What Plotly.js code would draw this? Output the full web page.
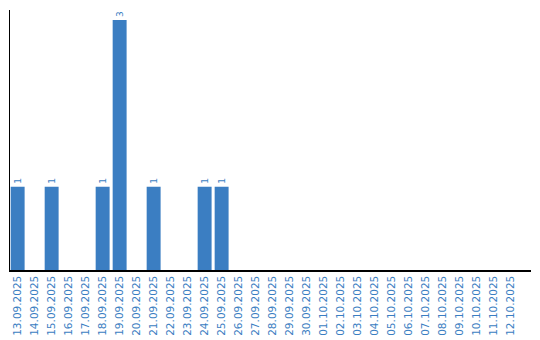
<!DOCTYPE html>
<html><head><meta charset="utf-8">
<script src="https://cdn.plot.ly/plotly-3.0.1.min.js"></script>
<style>html,body{margin:0;padding:0;background:#fff}#c{width:540px;height:340px}</style>
</head><body><div id="c"></div>
<script>
const dates = ["13.09.2025","14.09.2025","15.09.2025","16.09.2025","17.09.2025","18.09.2025","19.09.2025","20.09.2025","21.09.2025","22.09.2025","23.09.2025","24.09.2025","25.09.2025","26.09.2025","27.09.2025","28.09.2025","29.09.2025","30.09.2025","01.10.2025","02.10.2025","03.10.2025","04.10.2025","05.10.2025","06.10.2025","07.10.2025","08.10.2025","09.10.2025","10.10.2025","11.10.2025","12.10.2025"];
const counts = [1,0,1,0,0,1,3,0,1,0,0,1,1,0,0,0,0,0,0,0,0,0,0,0,0,0,0,0,0,0];
const labels = counts.map(v => v > 0 ? String(v) : "");
const blue = "#3b7ec2";
Plotly.newPlot("c", [{
  type: "bar", x: dates, y: counts, text: labels,
  textposition: "outside", textangle: -90, cliponaxis: false,
  textfont: {family: "DejaVu Sans, sans-serif", size: 9, color: blue},
  marker: {color: blue}, hoverinfo: "none"
}], {
  width: 540, height: 340,
  margin: {l: 10, r: 9, t: 10, b: 70, pad: 0},
  paper_bgcolor: "#fff", plot_bgcolor: "#fff",
  bargap: 0.18, showlegend: false,
  font: {family: "DejaVu Sans, sans-serif"},
  xaxis: {type: "category", range: [-0.45, 30.2], showgrid: false, zeroline: false,
    showline: true, linecolor: "#000", linewidth: 1.5, ticks: "",
    tickangle: -90, tickfont: {size: 10.5, color: blue}, automargin: false},
  yaxis: {range: [0, 3.12], showgrid: false, zeroline: false, showline: true,
    linecolor: "#000", linewidth: 1.2, showticklabels: false, ticks: "", fixedrange: true}
}, {staticPlot: true, displayModeBar: false});
</script></body></html>
